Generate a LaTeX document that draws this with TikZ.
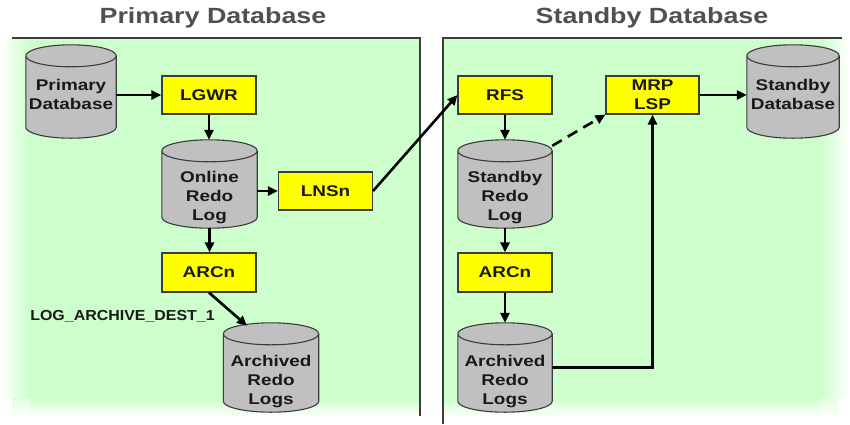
\documentclass[tikz,border=0pt]{standalone}
\usepackage{fontspec}
\setmainfont{Liberation Sans}[FakeStretch=1.22]
\newfontfamily\destfont{Liberation Sans}[FakeStretch=1.1]
\usetikzlibrary{arrows.meta,calc}

\definecolor{panelgreen}{RGB}{204,255,204}
\definecolor{boxyellow}{RGB}{255,255,0}
\definecolor{cylgray}{RGB}{192,192,192}
\definecolor{titlegray}{RGB}{80,80,80}
\definecolor{edgegray}{RGB}{60,60,60}
\definecolor{textdark}{RGB}{25,25,25}

\newcommand\boxfont{\bfseries\fontsize{15.5}{19}\selectfont}
\newcommand\titlefont{\bfseries\fontsize{22}{24}\selectfont}
\newcommand\destlabelfont{\destfont\bfseries\fontsize{14.5}{17}\selectfont}

\pgfdeclarelayer{panels}
\pgfdeclarelayer{bodies}
\pgfsetlayers{panels,bodies,main}

\tikzset{
  proc/.style={draw=edgegray, line width=1.1pt, fill=boxyellow,
    minimum width=94pt, minimum height=38pt, inner sep=0pt,
    font=\boxfont, align=center, text=textdark},
  db/.style={minimum width=95pt, minimum height=89pt, inner sep=0pt},
  dbtext/.style={font=\boxfont, align=center, text=textdark, inner sep=0pt},
  cyl/.style={fill=cylgray, draw=edgegray, line width=1.1pt},
  flow/.style={line width=2.6pt, draw=black, -{Triangle[length=10pt,width=9pt]}},
  dashflow/.style={flow, dash pattern=on 11pt off 7pt},
  paneledge/.style={draw=edgegray, line width=1.4pt},
  heading/.style={font=\titlefont, text=titlegray, inner sep=0pt},
}

% cylinder outline around a named rectangular node
\newcommand\cylshape[1]{%
  \begin{pgfonlayer}{bodies}
  \draw[cyl] let \p1=(#1.north west), \p2=(#1.south east), \n1={(\x2-\x1)/2} in
    (\x1,\y1-11pt) -- (\x1,\y2+11pt)
    arc[start angle=180, end angle=360, x radius=\n1, y radius=11pt]
    -- (\x2,\y1-11pt)
    arc[start angle=0, end angle=180, x radius=\n1, y radius=11pt] -- cycle
    (\x1,\y1-11pt) arc[start angle=180, end angle=360, x radius=\n1, y radius=11pt];
  \end{pgfonlayer}}

\begin{document}
\begin{tikzpicture}[x=1pt, y=-1pt]
\useasboundingbox (0,0) rectangle (850,424);

% panels with softly fading outer edges
\begin{pgfonlayer}{panels}
  \fill[white] (0,0) rectangle (850,424);
  \fill[panelgreen] (30,38) rectangle (420,398);
  \fill[panelgreen] (443,38) rectangle (820,398);
  \foreach \i in {0,...,29} {
    \pgfmathtruncatemacro\pa{\i*100/29}
    \pgfmathtruncatemacro\pb{100-\i*100/29}
    \fill[panelgreen!\pa!white] (\i,38) rectangle (\i+1.1,398);
    \fill[panelgreen!\pb!white] (820+\i,38) rectangle (821.1+\i,398);
  }
  \foreach \j in {0,...,19} {
    \pgfmathtruncatemacro\pc{100-\j*100/19}
    \pgfmathtruncatemacro\pd{(100-\j*100/19)*0.6}
    \fill[panelgreen!\pc!white] (30,398+\j) rectangle (420,399.1+\j);
    \fill[panelgreen!\pc!white] (443,398+\j) rectangle (820,399.1+\j);
    \fill[panelgreen!\pd!white] (12,398+\j) rectangle (30,399.1+\j);
    \fill[panelgreen!\pd!white] (820,398+\j) rectangle (838,399.1+\j);
  }
  \draw[paneledge] (12,38) -- (420,38) -- (420,416);
  \draw[paneledge] (443,424) -- (443,38) -- (842,38);
\end{pgfonlayer}

% headings
\node[heading] (hprim) at (213,18) {Primary Database};
\node[heading] (hstby) at (652,18) {Standby Database};

% primary side
\node[db, minimum width=90pt, minimum height=93pt] (pdb) at (71,91.5) {};
\node[dbtext] (pdbt) at ($(pdb)+(0,3)$) {Primary\\Database};
\node[proc] (lgwr) at (209,95) {LGWR};
\node[db, minimum height=88pt] (orl) at (209.5,184) {};
\node[dbtext] (orlt) at ($(orl)+(0,14)$) {Online\\Redo\\Log};
\node[proc] (lnsn) at (325.5,191) {LNSn};
\node[proc, minimum height=39pt] (arcl) at (209,272.5) {ARCn};
\node[db] (alog) at (271,367.5) {};
\node[dbtext] (alogt) at ($(alog)+(0,14)$) {Archived\\Redo\\Logs};
\node[font=\destlabelfont, text=textdark, inner sep=0pt] (dest) at (122.5,316.5) {LOG\_ARCHIVE\_DEST\_1};

% standby side
\node[proc] (rfs) at (505,95) {RFS};
\node[proc, minimum width=93pt] (mrp) at (652.5,95) {MRP\\LSP};
\node[db, minimum width=92pt, minimum height=93pt] (sdb) at (793,91.5) {};
\node[dbtext] (sdbt) at ($(sdb)+(0,3)$) {Standby\\Database};
\node[db, minimum width=94pt, minimum height=88pt] (srl) at (505,184) {};
\node[dbtext] (srlt) at ($(srl)+(0,14)$) {Standby\\Redo\\Log};
\node[proc, minimum height=39pt] (arcr) at (505,272.5) {ARCn};
\node[db, minimum width=94pt] (slog) at (505,367.5) {};
\node[dbtext] (slogt) at ($(slog)+(0,14)$) {Archived\\Redo\\Logs};

\cylshape{pdb}
\cylshape{orl}
\cylshape{alog}
\cylshape{sdb}
\cylshape{srl}
\cylshape{slog}

% connectors
\draw[flow] (pdb.east |- lgwr) -- (lgwr);
\draw[flow] (lgwr.south) -- (lgwr.south |- orl.north);
\draw[flow] (orl.east |- lnsn) -- (lnsn);
\draw[flow] (orl.south) -- (orl.south |- arcl.north);
\draw[flow] (arcl.south) -- ($(alog.north)+(-24,3)$);
\draw[flow] (lnsn.east) -- (rfs.west);
\draw[flow] (rfs.south) -- (srl.north);
\draw[dashflow] ($(srl.north east)+(0,6)$) -- (mrp.south west);
\draw[flow] (srl.south) -- (arcr.north);
\draw[flow] (arcr.south) -- (slog.north);
\draw[flow] (slog.east) -| (mrp.south);
\draw[flow] (mrp.east) -- (sdb.west |- mrp.east);
\end{tikzpicture}
\end{document}
